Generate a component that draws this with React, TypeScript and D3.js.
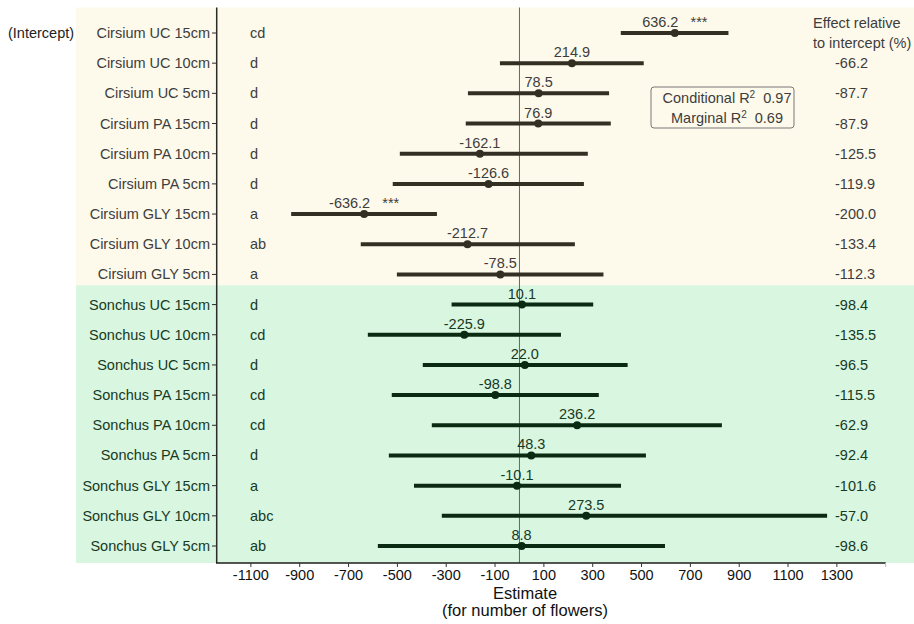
import React from "react";
import * as d3 from "d3";

const W = 914;
const H = 624;
const font = "'Liberation Sans', Arial, sans-serif";

const rows = [
  "Cirsium UC 15cm", "Cirsium UC 10cm", "Cirsium UC 5cm",
  "Cirsium PA 15cm", "Cirsium PA 10cm", "Cirsium PA 5cm",
  "Cirsium GLY 15cm", "Cirsium GLY 10cm", "Cirsium GLY 5cm",
  "Sonchus UC 15cm", "Sonchus UC 10cm", "Sonchus UC 5cm",
  "Sonchus PA 15cm", "Sonchus PA 10cm", "Sonchus PA 5cm",
  "Sonchus GLY 15cm", "Sonchus GLY 10cm", "Sonchus GLY 5cm",
];
const estimates = [636.2, 214.9, 78.5, 76.9, -162.1, -126.6, -636.2, -212.7, -78.5,
  10.1, -225.9, 22.0, -98.8, 236.2, 48.3, -10.1, 273.5, 8.8];
const lower = [415, -80, -211, -220, -490, -519, -935, -650, -502,
  -278, -621, -396, -523, -359, -535, -432, -318, -580];
const upper = [856, 509, 367, 374, 280, 264, -338, 227, 344,
  302, 170, 443, 325, 829, 518, 416, 1260, 596];
const signif = ["***", "", "", "", "", "", "***", "", "", "", "", "", "", "", "", "", "", ""];
const letters = ["cd", "d", "d", "d", "d", "d", "a", "ab", "a",
  "d", "cd", "d", "cd", "cd", "d", "a", "abc", "ab"];
const effects = ["", "-66.2", "-87.7", "-87.9", "-125.5", "-119.9", "-200.0", "-133.4", "-112.3",
  "-98.4", "-135.5", "-96.5", "-115.5", "-62.9", "-92.4", "-101.6", "-57.0", "-98.6"];
const xTicks = [-1100, -900, -700, -500, -300, -100, 100, 300, 500, 700, 900, 1100, 1300];

const panelTop = 7.5;
const panelBottom = 563;
const bgLeft = 76;

export default function App() {
  const x = d3.scaleLinear().domain([-1240, 1500]).range([216.7, 885.7]);
  const y = d3.scalePoint<string>().domain(rows).range([33, 546]);
  const mid = (panelTop + panelBottom) / 2;

  const isCirsium = (r: string) => r.startsWith("Cirsium");
  const barColor = (r: string) => (isCirsium(r) ? "#332f22" : "#0b2a12");
  const textColor = (r: string) => (isCirsium(r) ? "#3d3d3d" : "#173a1f");

  return (
    <svg width={W} height={H} style={{ position: "absolute", left: 0, top: 0, display: "block" }}
      fontFamily={font}>
      <rect x={0} y={0} width={W} height={H} fill="#ffffff" />
      <rect x={bgLeft} y={panelTop} width={W - bgLeft} height={mid - panelTop} fill="#fefaeb" />
      <rect x={bgLeft} y={mid} width={W - bgLeft} height={panelBottom - mid} fill="#d9f6e1" />

      {/* zero reference line */}
      <line x1={x(0)} x2={x(0)} y1={panelTop} y2={panelBottom} stroke="#666" strokeWidth={1} />

      {/* error bars and points */}
      {rows.map((r, i) => (
        <g key={r}>
          <line x1={x(lower[i])} x2={x(upper[i])} y1={y(r)} y2={y(r)}
            stroke={barColor(r)} strokeWidth={4} />
          <circle cx={x(estimates[i])} cy={y(r)} r={4} fill={barColor(r)} />
          <text x={x(estimates[i])} y={(y(r) as number) - 6} textAnchor="middle"
            fontSize={14.5} fill={textColor(r)} style={{ whiteSpace: "pre" }}>
            {estimates[i].toFixed(1) + (signif[i] ? "   " + signif[i] : "")}
          </text>
        </g>
      ))}

      {/* y axis */}
      <line x1={216.7} x2={216.7} y1={panelTop} y2={panelBottom} stroke="#2b2b2b" strokeWidth={1.5} />
      {rows.map((r, i) => (
        <g key={"lab" + r}>
          <line x1={212} x2={216.7} y1={y(r)} y2={y(r)} stroke="#2b2b2b" strokeWidth={1} />
          <text x={210} y={(y(r) as number) + 5} textAnchor="end" fontSize={14.5} fill={textColor(r)}>{r}</text>
          <text x={250} y={(y(r) as number) + 5} fontSize={14.5} fill={textColor(r)}>{letters[i]}</text>
          <text x={835} y={(y(r) as number) + 5} fontSize={14.5} fill={textColor(r)}>{effects[i]}</text>
        </g>
      ))}
      <text x={8} y={(y(rows[0]) as number) + 5} fontSize={14.5} fill="#222">(Intercept)</text>

      <text x={813} y={28} fontSize={14.5} fill="#3d3d3d">Effect relative</text>
      <text x={813} y={48} fontSize={14.5} fill="#3d3d3d">to intercept (%)</text>

      {/* R2 box */}
      <rect x={651} y={87} width={143} height={41} rx={3} fill="none" stroke="#777" strokeWidth={1} />
      <text x={727} y={103} textAnchor="middle" fontSize={14.5} fill="#3d3d3d" style={{ whiteSpace: "pre" }}>
        Conditional R<tspan fontSize={10} dy={-5}>2</tspan><tspan dy={5}>  0.97</tspan>
      </text>
      <text x={727} y={123} textAnchor="middle" fontSize={14.5} fill="#3d3d3d" style={{ whiteSpace: "pre" }}>
        Marginal R<tspan fontSize={10} dy={-5}>2</tspan><tspan dy={5}>  0.69</tspan>
      </text>

      {/* x axis */}
      <line x1={216} x2={x(1500)} y1={panelBottom} y2={panelBottom} stroke="#1e1e1e" strokeWidth={1.5} />
      {xTicks.map((t) => (
        <g key={t}>
          <line x1={x(t)} x2={x(t)} y1={panelBottom} y2={panelBottom + 4} stroke="#333" strokeWidth={1} />
          <text x={x(t)} y={580} textAnchor="middle" fontSize={14.5} fill="#111">{t}</text>
        </g>
      ))}
      <line x1={x(1500)} x2={x(1500)} y1={panelBottom} y2={panelBottom + 4} stroke="#bbb" strokeWidth={1} />
      <text x={525} y={599} textAnchor="middle" fontSize={16.5} fill="#111">Estimate</text>
      <text x={525} y={616} textAnchor="middle" fontSize={16.5} fill="#111">(for number of flowers)</text>
    </svg>
  );
}
